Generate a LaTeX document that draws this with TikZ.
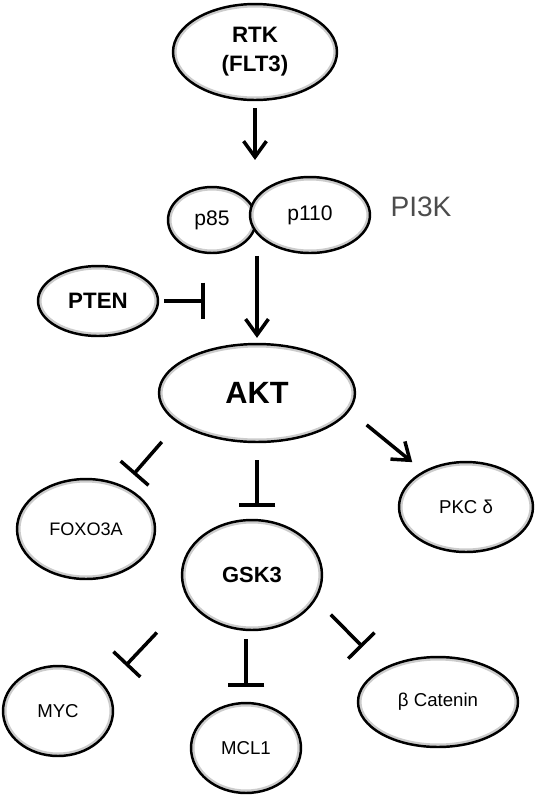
\documentclass[tikz,border=0pt]{standalone}
\usepackage{fontspec}
\setmainfont{Liberation Sans}
\usetikzlibrary{arrows.meta,shapes.geometric,calc}

\begin{document}
\begin{tikzpicture}[
  x=0.02cm, y=-0.02cm,
  protein/.style={ellipse, draw=black, line width=1.4pt, fill=white, inner sep=0pt,
    path picture={\draw[gray!40, line width=4pt]
      let \p1=(path picture bounding box.north east), \p2=(path picture bounding box.center)
      in (\p2) ellipse ({\x1-\x2} and {\y1-\y2});}},
  act/.style={line width=2pt, -{Straight Barb[length=9pt,width=13pt]}},
  inh/.style={line width=2pt, -{Bar[width=21pt]}}
]
  \useasboundingbox (0,0) rectangle (555,796);

  %% Proteins
  \node[protein, minimum width=3.28cm, minimum height=1.92cm, align=center,
    font=\bfseries\fontsize{12.7}{16.5}\selectfont] (rtk) at (255,52) {RTK\\(FLT3)};
  \node[protein, minimum width=1.76cm, minimum height=1.32cm,
    font=\fontsize{12}{14}\selectfont] (p85) at (212,220) {p85};
  \node[protein, minimum width=2.4cm, minimum height=1.52cm,
    font=\fontsize{12}{14}\selectfont] (p110) at (310,215) {p110};
  \node[text=black!70, font=\fontsize{16}{19}\selectfont] (pi3k) at (421,207) {PI3K};
  \node[protein, minimum width=2.4cm, minimum height=1.4cm,
    font=\bfseries\fontsize{12.7}{15}\selectfont] (pten) at (98,301) {PTEN};
  \node[protein, minimum width=3.92cm, minimum height=1.96cm,
    font=\bfseries\fontsize{17.5}{20}\selectfont] (akt) at (257,393) {AKT};
  \node[protein, minimum width=2.76cm, minimum height=2cm,
    font=\fontsize{10.3}{12}\selectfont] (foxo) at (86,529) {FOXO3A};
  \node[protein, minimum width=2.68cm, minimum height=1.8cm,
    font=\fontsize{10.6}{12}\selectfont] (pkc) at (466,507) {PKC δ};
  \node[protein, minimum width=2.8cm, minimum height=2.2cm,
    font=\bfseries\fontsize{12.5}{15}\selectfont] (gsk) at (252,575) {GSK3};
  \node[protein, minimum width=2.2cm, minimum height=1.8cm,
    font=\fontsize{10.6}{12}\selectfont] (myc) at (58,711) {MYC};
  \node[protein, minimum width=2.2cm, minimum height=1.8cm,
    font=\fontsize{10.6}{12}\selectfont] (mcl) at (246,748) {MCL1};
  \node[protein, minimum width=3.2cm, minimum height=1.8cm,
    font=\fontsize{10.6}{12}\selectfont] (bcat) at (438,702) {β Catenin};

  %% Edges
  \draw[act, shorten <=4pt, shorten >=9pt] (rtk.south) -- (rtk.south |- p110.north);
  \draw[act, shorten <=1pt, shorten >=2.8pt] (akt.north |- p110.south) -- (akt.north);
  \draw[inh, shorten <=2.8pt, shorten >=29.6pt] (pten.east) -- (pten.east -| akt.north);
  \draw[inh, shorten <=14pt, shorten >=8.5pt] (akt.201) -- (foxo.49);
  \draw[inh, shorten <=9.7pt, shorten >=6.8pt] (akt.south) -- (akt.south |- gsk.north);
  \draw[act, shorten <=12.5pt, shorten >=8pt] (akt.349) -- (pkc.140);
  \draw[inh, shorten <=25.8pt, shorten >=16.5pt] (gsk.201) -- (myc.27);
  \draw[inh, shorten <=4.5pt, shorten >=8.5pt] (mcl.north |- gsk.south) -- (mcl.north);
  \draw[inh, shorten <=12pt, shorten >=16.8pt] (gsk.339) -- (bcat.148);
\end{tikzpicture}
\end{document}
